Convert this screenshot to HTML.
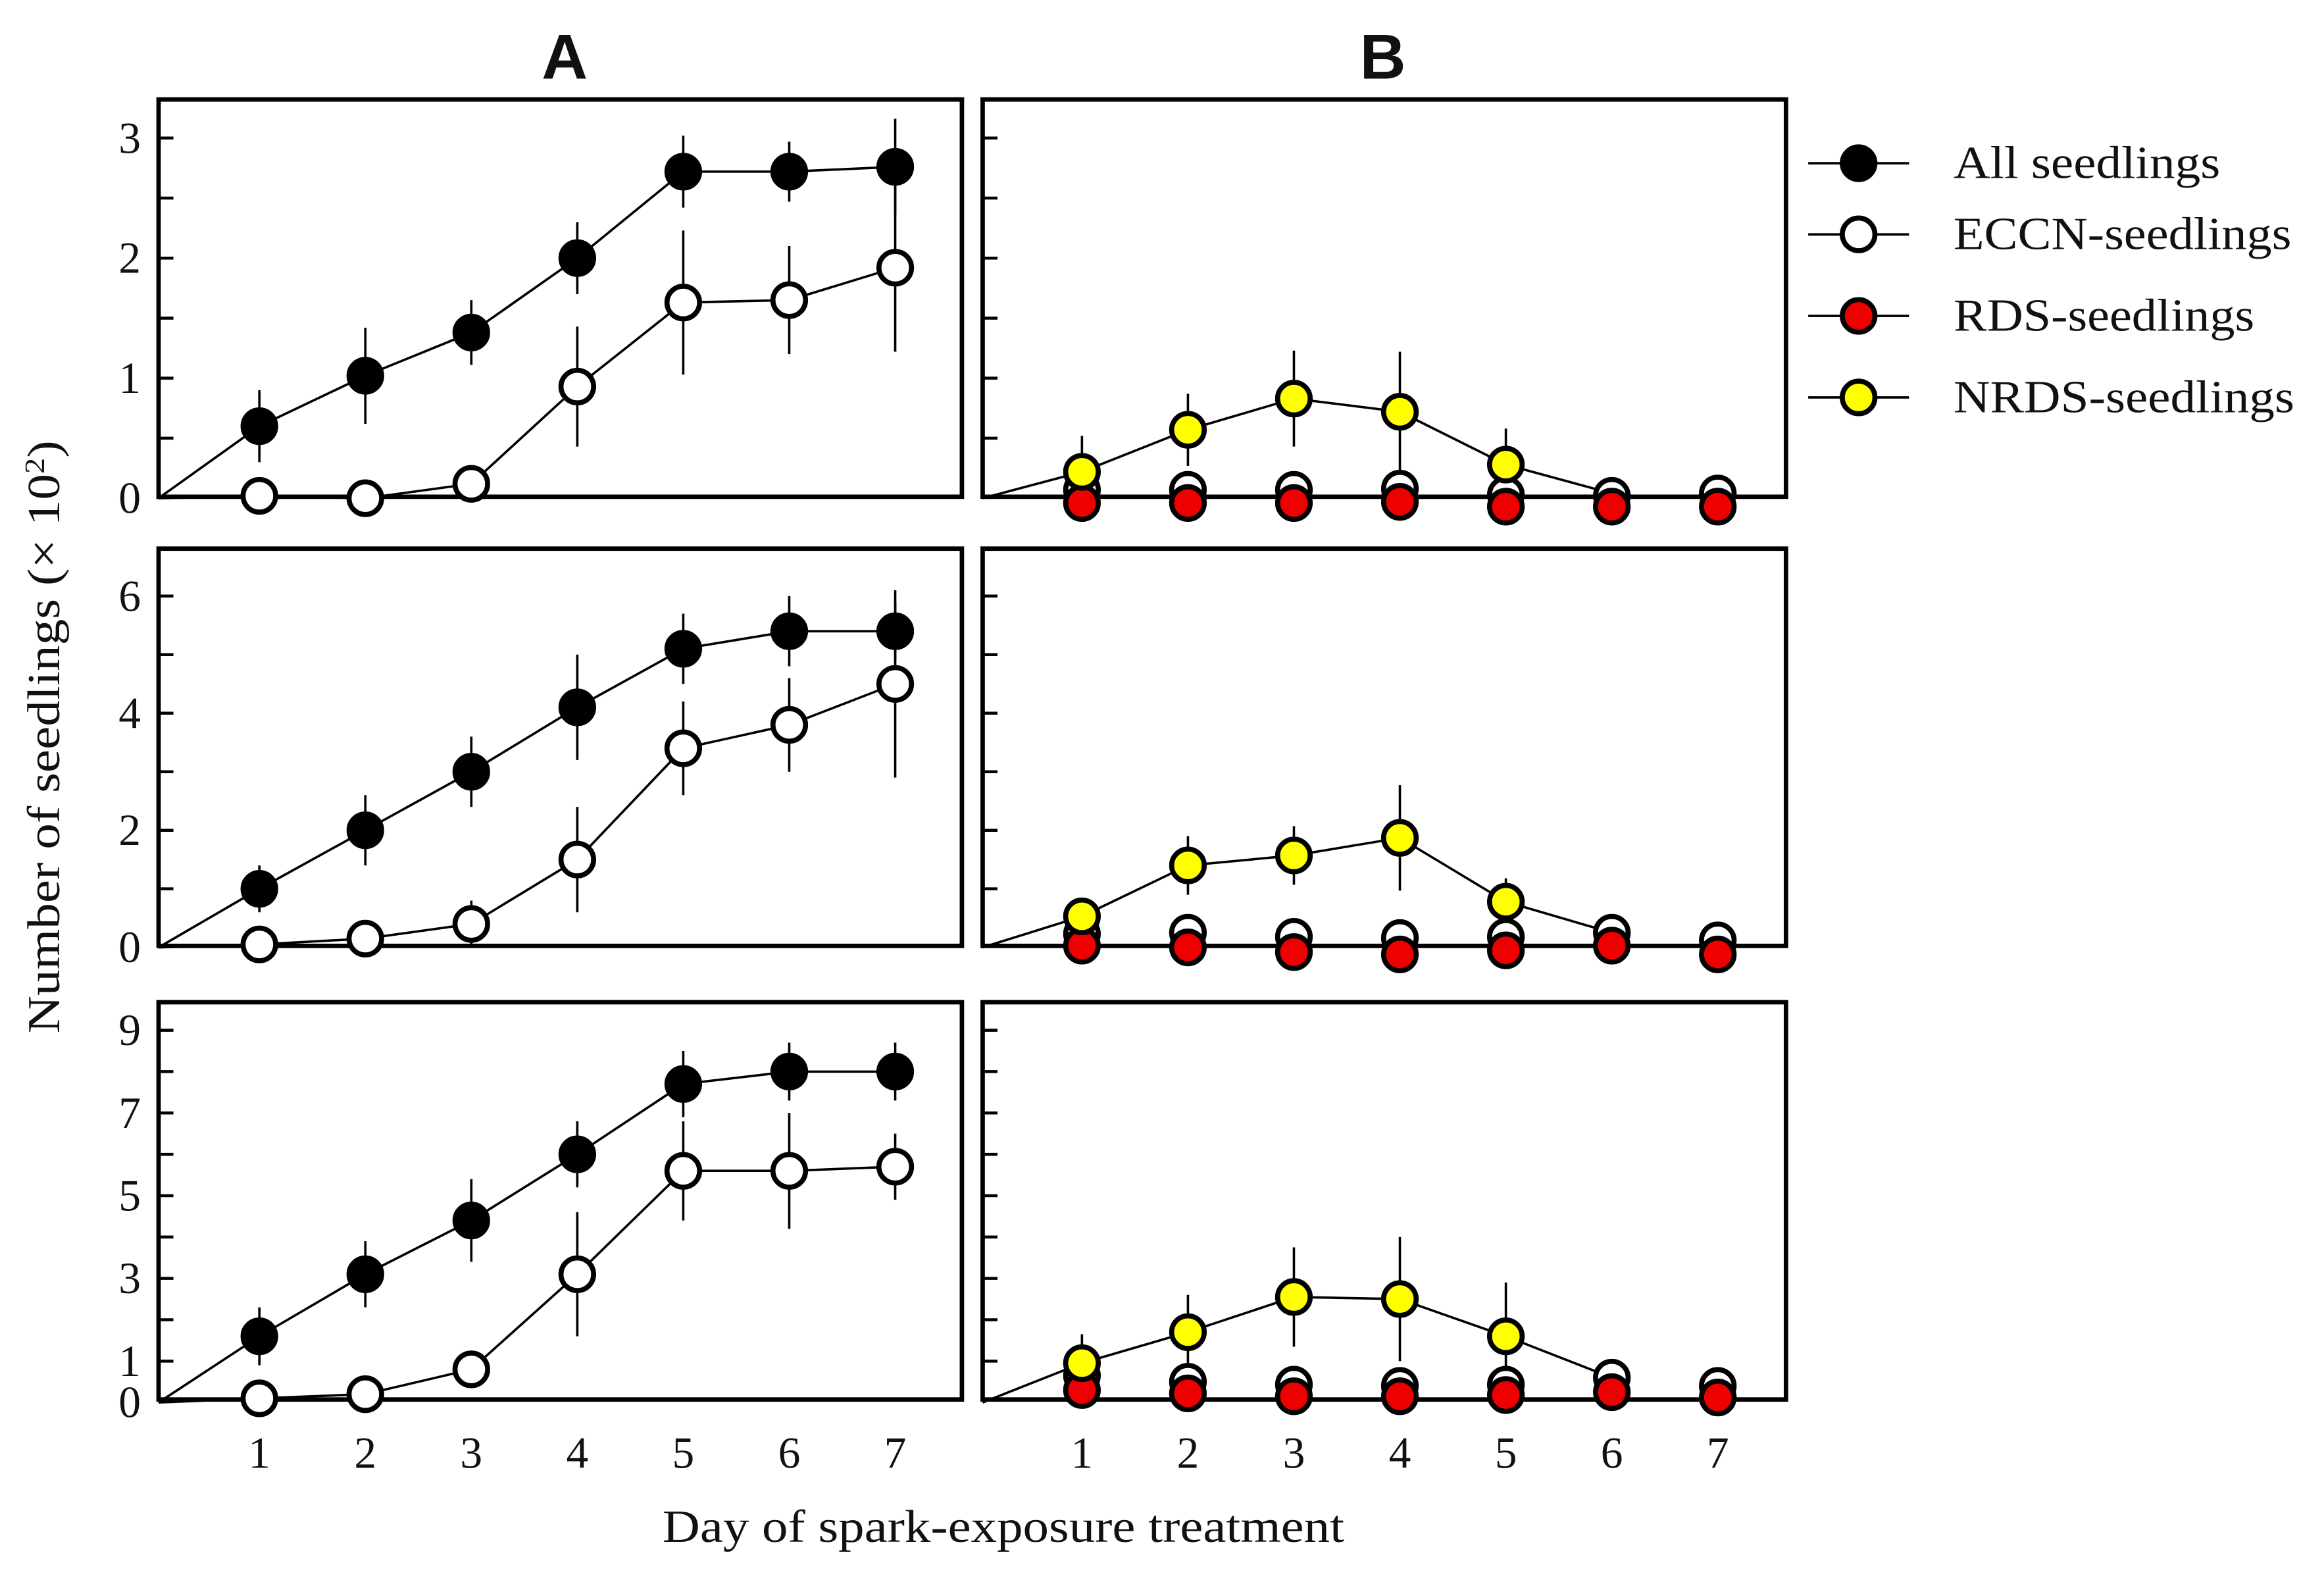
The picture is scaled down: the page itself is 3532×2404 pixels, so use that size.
<!DOCTYPE html>
<html><head><meta charset="utf-8"><style>
html,body{margin:0;padding:0;background:#fff}
svg{display:block}
text{font-family:"Liberation Serif",serif;fill:#111}
</style></head><body>
<svg id="chart" width="3532" height="2404" viewBox="0 0 1568 1067" xmlns="http://www.w3.org/2000/svg">
<text x="381" y="53" font-weight="bold" font-size="43" text-anchor="middle" style="font-family:'Liberation Sans',sans-serif">A</text>
<text x="933" y="53" font-weight="bold" font-size="43" text-anchor="middle" style="font-family:'Liberation Sans',sans-serif">B</text>
<text transform="translate(40,497) rotate(-90)" font-size="31" text-anchor="middle" textLength="400" lengthAdjust="spacingAndGlyphs">Number of seedlings (× 10<tspan baseline-shift="super" font-size="19">2</tspan>)</text>
<text x="677" y="1040" font-size="31" text-anchor="middle" textLength="460" lengthAdjust="spacingAndGlyphs">Day of spark-exposure treatment</text>
<g id="plots"></g>
<g id="legend"></g>
</svg>
<script>
const days = [1,2,3,4,5,6,7];
// Row 1
const r1All = [0.6,1.02,1.38,2.0,2.72,2.72,2.76];
const r1AllErr = [0.3,0.4,0.27,0.3,0.3,0.25,0.4];
const r1Eccn = [0.02,0.0,0.12,0.93,1.63,1.65,1.92];
const r1EccnErr = [0,0.05,0.05,0.5,0.6,0.45,0.7];
const r1Nrds = [0.22,0.57,0.83,0.72,0.28,0.04];
const r1NrdsErr = [0.3,0.3,0.4,0.5,0.3,0];
const r1BEccn = [0.07,0.07,0.07,0.08,0.03,0.02,0.04];
const r1Rds = [-0.04,-0.04,-0.04,-0.03,-0.07,-0.07,-0.07];
// Row 2
const r2All = [1.0,2.0,3.0,4.1,5.1,5.4,5.4];
const r2AllErr = [0.4,0.6,0.6,0.9,0.6,0.6,0.5];
const r2Eccn = [0.05,0.15,0.4,1.5,3.4,3.8,4.5];
const r2EccnErr = [0,0.1,0.4,0.9,0.8,0.8,1.6];
const r2Nrds = [0.53,1.4,1.57,1.87,0.78,0.25];
const r2NrdsErr = [0.3,0.5,0.5,0.9,0.4,0];
const r2BEccn = [0.23,0.25,0.18,0.16,0.18,0.25,0.12];
const r2Rds = [0.03,0.0,-0.08,-0.12,-0.05,0.03,-0.12];
// Row 3
const r3All = [1.6,3.1,4.4,6.0,7.7,8.0,8.0];
const r3AllErr = [0.7,0.8,1.0,0.8,0.8,0.7,0.7];
const r3Eccn = [0.1,0.2,0.8,3.1,5.6,5.6,5.7];
const r3EccnErr = [0,0.3,0.2,1.5,1.2,1.4,0.8];
const r3Nrds = [0.95,1.7,2.55,2.5,1.6,0.6];
const r3NrdsErr = [0.7,0.9,1.2,1.5,1.3,0];
const r3BEccn = [0.65,0.5,0.43,0.4,0.43,0.6,0.4];
const r3Rds = [0.3,0.22,0.15,0.15,0.18,0.25,0.12];
const r1Ticks = ["0","1","2","3"];
const r2Ticks = ["0","2","4","6"];
const r3Ticks = ["0","1","3","5","7","9"];
const xTickLabels = ["1","2","3","4","5","6","7"];
const nrdsMarkerCount = 5;

const NS = "http://www.w3.org/2000/svg";
const plots = document.getElementById('plots');
function mk(tag, attrs, parent){const e=document.createElementNS(NS,tag);for(const k in attrs)e.setAttribute(k,attrs[k]);(parent||plots).appendChild(e);return e;}

const rows = [
 {top:67,bot:335,zero:336,per:81,ticks:r1Ticks,minor:0.5,max:3.3,A:[[r1All,r1AllErr,'#000'],[r1Eccn,r1EccnErr,'#fff']],B:[[r1BEccn,null,'#fff',false],[r1Rds,null,'#e00',false],[r1Nrds,r1NrdsErr,'#ff0',true,nrdsMarkerCount]]},
 {top:370,bot:638,zero:639,per:39.5,ticks:r2Ticks,minor:1,max:6.7,A:[[r2All,r2AllErr,'#000'],[r2Eccn,r2EccnErr,'#fff']],B:[[r2BEccn,null,'#fff',false],[r2Rds,null,'#e00',false],[r2Nrds,r2NrdsErr,'#ff0',true,nrdsMarkerCount]]},
 {top:676,bot:944,zero:946,per:27.9,ticks:r3Ticks,minor:1,max:9.6,A:[[r3All,r3AllErr,'#000'],[r3Eccn,r3EccnErr,'#fff']],B:[[r3BEccn,null,'#fff',false],[r3Rds,null,'#e00',false],[r3Nrds,r3NrdsErr,'#ff0',true,nrdsMarkerCount]]}
];
const xA = d => 175 + (d-1)*71.5;
const xB = d => 730 + (d-1)*71.5;
const panelsX = [[107,649,xA],[663,1205,xB]];

rows.forEach((r,ri)=>{
  const y = v => r.zero - v*r.per;
  panelsX.forEach((px,pi)=>{
    const [x0,x1,xs]=px;
    const g = mk('g',{});
    
    
    for(let v=r.minor; v<=r.max; v+=r.minor){
      const t=mk('line',{x1:x0,x2:x0+10,y1:y(v),y2:y(v),stroke:'#000','stroke-width':2},g);
      
      
    }
    if(pi===0){
      r.ticks.forEach(tl=>{
        const t=mk('text',{x:x0-12,y:y(+tl)+10,'font-size':30,'text-anchor':'end'},g);
        t.textContent=tl;
        
        
      });
    }
    const series = pi===0 ? r.A.map(s=>[s[0],s[1],s[2],true]) : r.B;
    series.forEach(s=>{
      if(!s[3]) return;
      let d='M'+x0+','+r.zero;
      s[0].forEach((v,i)=>{d+=' L'+xs(days[i])+','+y(v);});
      const p=mk('path',{d:d,fill:'none',stroke:'#000','stroke-width':1.6},g);
      
      
    });
    series.forEach(s=>{
      if(!s[1]) return;
      s[0].forEach((v,i)=>{
        if(!s[1][i]) return;
        const e=mk('line',{x1:xs(days[i]),x2:xs(days[i]),y1:y(v-s[1][i]),y2:y(v+s[1][i]),stroke:'#000','stroke-width':1.6},g);
        
        
      });
    });
    const f=mk('rect',{x:x0,y:r.top,width:x1-x0,height:r.bot-r.top,fill:'none',stroke:'#000','stroke-width':3},g);
    
    
    series.forEach(s=>{
      const n = s[4] || s[0].length;
      s[0].forEach((v,i)=>{
        if(i>=n) return;
        const c=mk('circle',{cx:xs(days[i]),cy:y(v),r:11,fill:s[2],stroke:'#000','stroke-width':3.4},g);
        
        
      });
    });
    if(ri===2){
      xTickLabels.forEach((tl,i)=>{
        const t=mk('text',{x:xs(days[i]),y:990,'font-size':30,'text-anchor':'middle'},g);
        t.textContent=tl;
        
        
      });
    }
  });
});

const leg=document.getElementById('legend');
const legItems=[["All seedlings","#000",110,180],["ECCN-seedlings","#fff",158,228],["RDS-seedlings","#e00",213,203],["NRDS-seedlings","#ff0",268,230]];
legItems.forEach(it=>{
  const g=mk('g',{},leg);
  
  
  mk('line',{x1:1220,x2:1288,y1:it[2],y2:it[2],stroke:'#000','stroke-width':1.6},g);
  mk('circle',{cx:1254,cy:it[2],r:11,fill:it[1],stroke:'#000','stroke-width':3.4},g);
  const t=mk('text',{x:1318,y:it[2]+10,'font-size':31,textLength:it[3],lengthAdjust:'spacingAndGlyphs'},g);
  t.textContent=it[0];
});
</script>
</body></html>
